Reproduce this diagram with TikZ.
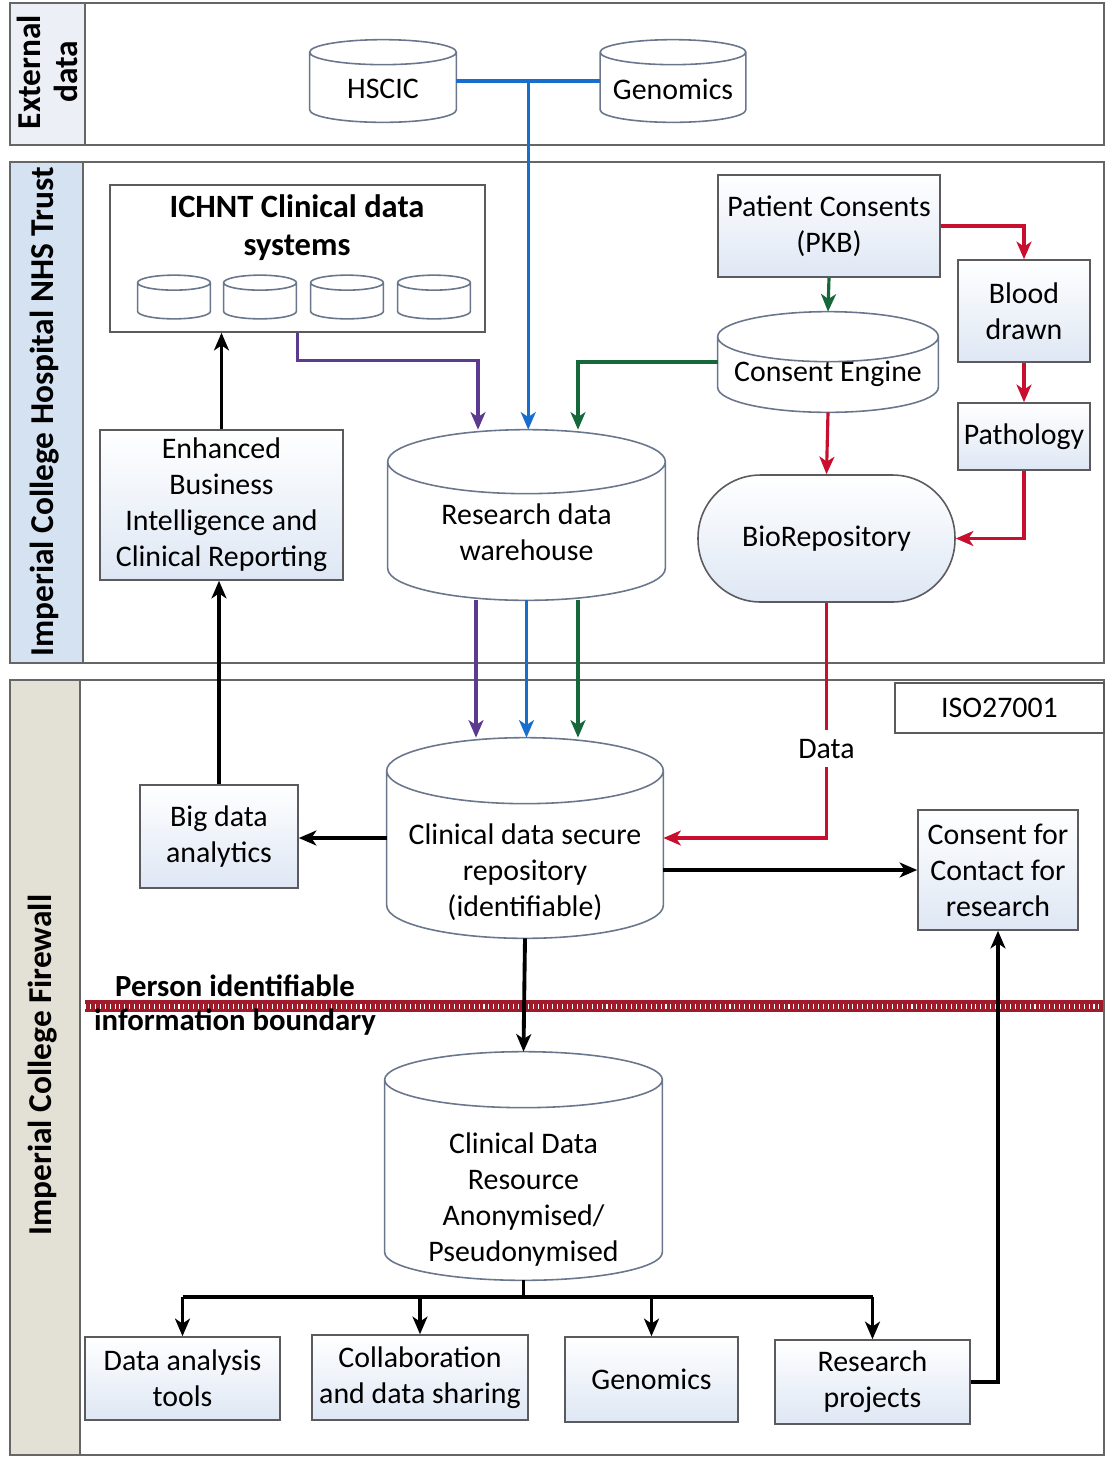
\documentclass[tikz,border=0pt]{standalone}
\usepackage{fontspec}
\setmainfont{Carlito}
\usetikzlibrary{arrows.meta,positioning,calc}

\definecolor{boxline}{RGB}{90,90,95}
\definecolor{dbline}{RGB}{105,118,140}
\definecolor{boxblue}{RGB}{222,231,244}
\definecolor{extside}{RGB}{236,239,246}
\definecolor{trustside}{RGB}{213,226,242}
\definecolor{fwside}{RGB}{227,224,214}
\definecolor{bluelink}{RGB}{24,110,204}
\definecolor{purplelink}{RGB}{92,58,143}
\definecolor{greenlink}{RGB}{22,104,58}
\definecolor{redlink}{RGB}{200,16,46}
\definecolor{boundary}{RGB}{160,26,42}

% outline of a database drum over a (blank) node: node name, lid radius
\newcommand\dbcyl[2]{%
  \draw[dbwire] let \p1=(#1.north west), \p2=(#1.south east), \n1={(\x2-\x1)/2} in
    (\x1,\y1-#2) -- (\x1,\y2+#2) arc[start angle=180, end angle=360, x radius=\n1, y radius=#2]
    -- (\x2,\y1-#2)
    (\x1+\n1,\y1-#2) ellipse[x radius=\n1, y radius=#2];}

\begin{document}
\begin{tikzpicture}[x=0.02cm,y=-0.02cm,
  font=\fontsize{17}{20.5}\selectfont,
  frame/.style={draw=gray!80!black, line width=1.1pt},
  sidelabel/.style={rotate=90, font=\fontsize{19}{21}\selectfont\bfseries, align=center},
  box/.style={draw=boxline, line width=0.9pt, top color=white, bottom color=boxblue, align=center, inner sep=2pt},
  plainbox/.style={draw=boxline, line width=0.9pt, fill=white, align=center},
  dbspace/.style={inner sep=0pt},
  dbwire/.style={draw=dbline, line width=0.9pt},
  link/.style={line width=2.2pt, -{Stealth[length=10pt,width=8.5pt,inset=2.8pt]}},
  flow/.style={link, line width=1.8pt},
  line/.style={line width=2.2pt}]
\useasboundingbox (0,0) rectangle (1106,1458);

% three bands with their side labels
\fill[extside] (10,3) rectangle (85,145);
\draw[frame] (10,3) rectangle (1104,145) (85,3) -- (85,145);
\node[sidelabel] (extlbl) at (47,72) {External\\data};

\fill[trustside] (10,162) rectangle (83,663);
\draw[frame] (10,162) rectangle (1104,663) (83,162) -- (83,663);
\node[sidelabel] (trustlbl) at (45,412) {Imperial College Hospital NHS Trust};

\fill[fwside] (10,680) rectangle (80,1455);
\draw[frame] (10,680) rectangle (1104,1455) (80,680) -- (80,1455);
\node[sidelabel] (fwlbl) at (43,1065) {Imperial College Firewall};

% external sources
\node[dbspace, minimum width=2.92cm, minimum height=1.64cm] (hscic) at (383,81) {};
\dbcyl{hscic}{0.25cm}
\node (hscictxt) at ([yshift=-0.16cm]hscic.center) {HSCIC};
\node[dbspace, minimum width=2.9cm, minimum height=1.64cm] (genext) at (673,81) {};
\dbcyl{genext}{0.25cm}
\node (genexttxt) at ([yshift=-0.16cm]genext.center) {Genomics};

% hospital trust
\node[plainbox, minimum width=7.5cm, minimum height=2.94cm] (ichnt) at (297.5,258.5) {};
\node[font=\fontsize{18.5}{21.5}\selectfont\bfseries, align=center] (ichntlbl) at (297,228) {ICHNT Clinical data\\systems};
\foreach \x [count=\i] in {174,260,347,434}{
  \node[dbspace, minimum width=1.44cm, minimum height=0.86cm] (sys\i) at (\x,297) {};
  \dbcyl{sys\i}{0.15cm}
}

\node[box, minimum width=4.86cm, minimum height=3cm] (ebi) at (221.5,505) {Enhanced\\Business\\Intelligence and\\Clinical Reporting};

\node[dbspace, minimum width=5.54cm, minimum height=3.4cm] (rdw) at (526.5,515) {};
\dbcyl{rdw}{0.64cm}
\node[align=center] (rdwtxt) at ([yshift=-0.34cm]rdw.center) {Research data\\warehouse};

\node[box, minimum width=4.44cm, minimum height=2.04cm] (pkb) at (829,226) {Patient Consents\\(PKB)};
\node[dbspace, minimum width=4.4cm, minimum height=2cm] (ceng) at (828,362) {};
\dbcyl{ceng}{0.5cm}
\node (cengtxt) at ([yshift=-0.24cm]ceng.center) {Consent Engine};
\node[box, minimum width=2.64cm, minimum height=2.04cm] (blood) at (1024,311) {Blood\\drawn};
\node[box, minimum width=2.64cm, minimum height=1.34cm] (path) at (1024,436.5) {Pathology};
\node[box, minimum width=5.14cm, minimum height=2.54cm, rounded corners=1.25cm] (biorep) at (826.5,538.5) {BioRepository};

% firewall
\node[plainbox, minimum width=4.18cm, minimum height=1cm] (iso) at (999.5,708) {ISO27001};
\node[dbspace, minimum width=5.52cm, minimum height=4cm] (csr) at (525,838) {};
\dbcyl{csr}{0.66cm}
\node[align=center] (csrtxt) at ([yshift=-0.68cm]csr.center) {Clinical data secure\\repository\\(identifiable)};
\node[box, minimum width=3.16cm, minimum height=2.06cm] (bigdata) at (219,836.5) {Big data\\analytics};
\node[box, minimum width=3.2cm, minimum height=2.4cm] (cfc) at (998,870) {Consent for\\Contact for\\research};
\node[dbspace, minimum width=5.54cm, minimum height=4.56cm] (cdr) at (523.5,1166) {};
\dbcyl{cdr}{0.56cm}
\node[align=center] (cdrtxt) at ([yshift=-0.68cm]cdr.center) {Clinical Data\\Resource\\Anonymised/\\Pseudonymised};

\node[box, minimum width=3.9cm, minimum height=1.66cm] (dat) at (182.5,1378.5) {Data analysis\\tools};
\node[box, minimum width=4.32cm, minimum height=1.7cm] (collab) at (420,1377.5) {Collaboration\\and data sharing};
\node[box, minimum width=3.46cm, minimum height=1.7cm] (genom) at (651.5,1379.5) {Genomics};
\node[box, minimum width=3.9cm, minimum height=1.68cm] (rproj) at (872.5,1382) {Research\\projects};

% person identifiable information boundary
\draw[boundary, line width=0.24cm] (85,1006) -- (1103,1006);
\draw[white, line width=0.1cm, dash pattern=on 0.6pt off 2.2pt] (85,1006) -- (1103,1006);
\node[font=\fontsize{17.5}{20}\selectfont\bfseries] (pii1) at (235,986) {Person identifiable};
\node[font=\fontsize{17.5}{20}\selectfont\bfseries] (pii2) at (235,1022) {information boundary};

% data flows
\coordinate (hub) at ($(hscic.east)!.5!(genext.west)$);
\draw[line, line width=1.8pt, bluelink] (hscic.east) -- (genext.west);
\draw[flow, bluelink] (hub) -- (hub |- rdw.north);
\draw[flow, purplelink] (ichnt.south) -- ++(0,28) -| ([xshift=-0.97cm]rdw.north);
\draw[flow, greenlink] (ceng.west) -| ([xshift=1.03cm]rdw.north);
\draw[flow, greenlink] (pkb.south) -- (ceng.north);
\draw[flow, redlink] (pkb.east) -| (blood.north);
\draw[flow, redlink] (blood.south) -- (path.north);
\draw[flow, redlink] (path.south) |- (biorep.east);
\draw[flow, redlink] (ceng.south) -- (biorep.north);
\draw[flow, redlink] (biorep.south) |- node[pos=0.31, fill=white, text=black, inner sep=5pt] (datalbl) {Data} (csr.east);

\draw[flow, purplelink] ([xshift=-1.01cm]rdw.south) -- ([xshift=-1.01cm]rdw.south |- csr.north);
\draw[flow, bluelink] (rdw.south) -- (rdw.south |- csr.north);
\draw[flow, greenlink] ([xshift=1.03cm]rdw.south) -- ([xshift=1.03cm]rdw.south |- csr.north);

\draw[link] (ebi.north) -- (ebi.north |- ichnt.south);
\draw[link] (bigdata.north) -- (bigdata.north |- ebi.south);
\draw[link] (csr.west) -- (csr.west -| bigdata.east);
\draw[link] (cfc.west -| csr.east) -- (cfc.west);
\draw[link] (csr.south) -- (cdr.north);

\draw[line] (cdr.south) -- ++(0,17) coordinate (bus);
\draw[line] (dat.north |- bus) -- (rproj.north |- bus);
\foreach \n in {dat,collab,genom,rproj}
  \draw[link] (\n.north |- bus) -- (\n.north);
\draw[link] (rproj.east) -- ++(26,0) -| (cfc.south);
\end{tikzpicture}
\end{document}
